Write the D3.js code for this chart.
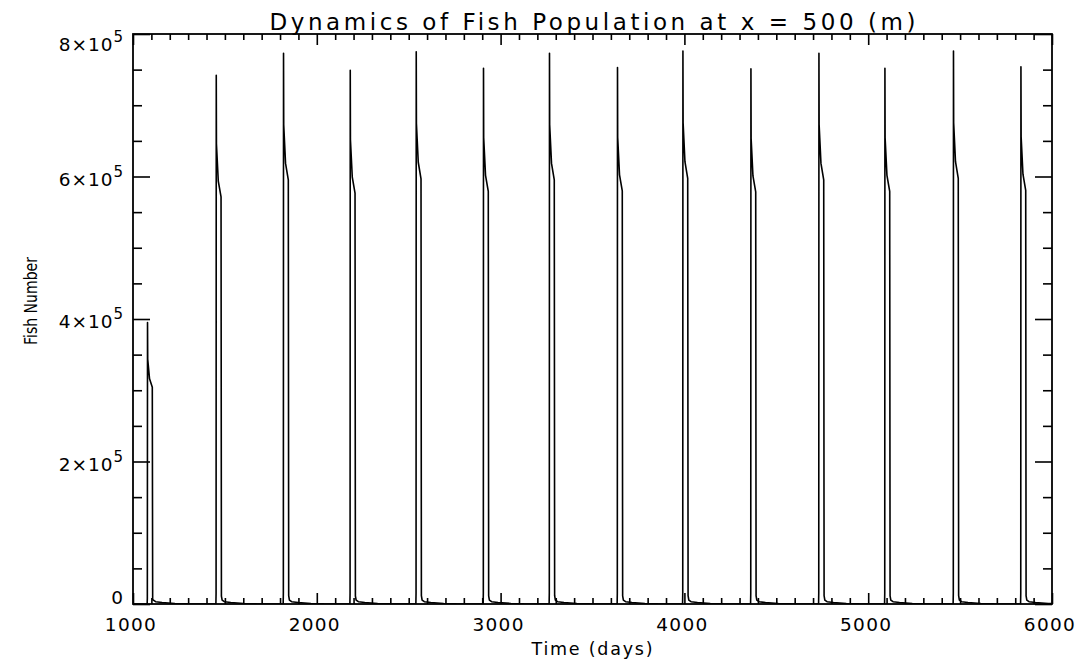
<!DOCTYPE html>
<html>
<head>
<meta charset="utf-8">
<script src="https://cdn.jsdelivr.net/npm/d3@7"></script>
<style>
  html, body { margin: 0; padding: 0; background: #fff; }
  svg { display: block; }
  text { font-family: "DejaVu Sans", sans-serif; fill: #000; }
</style>
</head>
<body>
<svg id="chart" width="1086" height="666"></svg>
<script>
// ---- data ----
const titleText = "Dynamics of Fish Population at x = 500 (m)";
const xTitle = "Time (days)";
const yTitle = "Fish Number";

// day at which each yearly spike rises
const spikeDays = [1078, 1452, 1818, 2181, 2540, 2906, 3265, 3635, 3991, 4361, 4731, 5090, 5463, 5830];
// peak fish number of each spike
const spikePeaks = [395000, 742000, 773000, 749000, 775000, 752000, 773000, 753000, 776000, 751000, 773000, 752000, 776000, 754000];

// shape of a spike: days after the rise, and share of the peak
const headOffsets = [-1, 0, 1, 2, 12, 27, 29];
const headShares  = [0, 0.02, 1.0, 0.87, 0.8, 0.77, 0.015];
// tail after the drop: days after the rise, and fish number
const tailOffsets = [33, 45, 80, 150, 220, 300];
const tailValues  = [5500, 3200, 2000, 800, 200, 0];

const xTickValues = [1000, 2000, 3000, 4000, 5000, 6000];
const xTickLabels = ["1000", "2000", "3000", "4000", "5000", "6000"];
const yTickValues = [0, 200000, 400000, 600000, 800000];
const yTickMantissa = ["0", "2", "4", "6", "8"];
const yTickExponent = ["", "5", "5", "5", "5"];

// ---- build series ----
const series = [[1000, 0]];
spikeDays.forEach((d, i) => {
  headOffsets.forEach((o, j) => series.push([d + o, headShares[j] * spikePeaks[i]]));
  tailOffsets.forEach((o, j) => series.push([d + o, tailValues[j]]));
});
series.push([6000, 0]);

// ---- layout ----
const svg = d3.select("#chart");
const L = 133, R = 1052, T = 34, B = 604;
const x = d3.scaleLinear().domain([1000, 6000]).range([L, R]);
const y = d3.scaleLinear().domain([0, 800000]).range([B, T]);

svg.append("defs").append("clipPath").attr("id", "clip")
  .append("rect").attr("x", L).attr("y", T - 2).attr("width", R - L).attr("height", B - T + 2);

const xMinor = x.ticks(50).filter(v => !xTickValues.includes(v));
const yMinor = d3.range(0, 800001, 50000).filter(v => !yTickValues.includes(v));

function styleAxis(g) {
  g.select(".domain").remove();
  g.selectAll("line").attr("stroke", "#000").attr("stroke-width", 1.6);
}

// bottom
svg.append("g").attr("transform", `translate(0,${B})`)
  .call(d3.axisBottom(x).tickValues(xTickValues).tickSize(-11).tickFormat(() => ""))
  .call(styleAxis);
svg.append("g").attr("transform", `translate(0,${B})`)
  .call(d3.axisBottom(x).tickValues(xMinor).tickSize(-6).tickFormat(() => ""))
  .call(styleAxis);
// top
svg.append("g").attr("transform", `translate(0,${T})`)
  .call(d3.axisTop(x).tickValues(xTickValues).tickSize(-11).tickFormat(() => ""))
  .call(styleAxis);
svg.append("g").attr("transform", `translate(0,${T})`)
  .call(d3.axisTop(x).tickValues(xMinor).tickSize(-6).tickFormat(() => ""))
  .call(styleAxis);
// left
svg.append("g").attr("transform", `translate(${L},0)`)
  .call(d3.axisLeft(y).tickValues(yTickValues).tickSize(-17).tickFormat(() => ""))
  .call(styleAxis);
svg.append("g").attr("transform", `translate(${L},0)`)
  .call(d3.axisLeft(y).tickValues(yMinor).tickSize(-9).tickFormat(() => ""))
  .call(styleAxis);
// right
svg.append("g").attr("transform", `translate(${R},0)`)
  .call(d3.axisRight(y).tickValues(yTickValues).tickSize(-17).tickFormat(() => ""))
  .call(styleAxis);
svg.append("g").attr("transform", `translate(${R},0)`)
  .call(d3.axisRight(y).tickValues(yMinor).tickSize(-9).tickFormat(() => ""))
  .call(styleAxis);

// frame
svg.append("rect").attr("x", L).attr("y", T).attr("width", R - L).attr("height", B - T)
  .attr("fill", "none").attr("stroke", "#000").attr("stroke-width", 1.8);

// data line
svg.append("path").datum(series)
  .attr("clip-path", "url(#clip)")
  .attr("fill", "none").attr("stroke", "#000").attr("stroke-width", 1.6)
  .attr("stroke-linejoin", "round")
  .attr("d", d3.line().x(d => x(d[0])).y(d => y(d[1])));

// x tick labels
svg.append("g").selectAll("text").data(xTickValues).join("text")
  .attr("x", d => x(d) - 2)
  .attr("y", 631)
  .attr("text-anchor", "middle")
  .attr("font-size", 18.5)
  .attr("letter-spacing", 1.3)
  .text((d, i) => xTickLabels[i]);

// y tick labels
const yl = svg.append("g").selectAll("text").data(yTickValues).join("text")
  .attr("x", 124)
  .attr("y", d => Math.max(T + 17, Math.min(B, y(d) + 9)))
  .attr("text-anchor", "end")
  .attr("font-size", 18.5)
  .attr("letter-spacing", 1);
yl.each(function(d, i) {
  const t = d3.select(this);
  if (yTickExponent[i]) {
    t.append("tspan").text(yTickMantissa[i] + "\u00d710");
    t.append("tspan").attr("dy", -9).attr("font-size", 15).text(yTickExponent[i]);
  } else {
    t.append("tspan").text(yTickMantissa[i]);
  }
});

// title
svg.append("text")
  .attr("x", (L + R) / 2).attr("y", 30)
  .attr("text-anchor", "middle")
  .attr("font-size", 23)
  .attr("textLength", 646).attr("lengthAdjust", "spacing")
  .text(titleText);

// axis titles
svg.append("text")
  .attr("x", 592).attr("y", 655)
  .attr("text-anchor", "middle")
  .attr("font-size", 17.5)
  .attr("textLength", 121).attr("lengthAdjust", "spacing")
  .text(xTitle);

svg.append("text")
  .attr("transform", "translate(37,301) rotate(-90)")
  .attr("text-anchor", "middle")
  .attr("font-size", 17)
  .attr("font-family", "Liberation Sans, sans-serif")
  .attr("textLength", 88).attr("lengthAdjust", "spacingAndGlyphs")
  .text(yTitle);
</script>
</body>
</html>
